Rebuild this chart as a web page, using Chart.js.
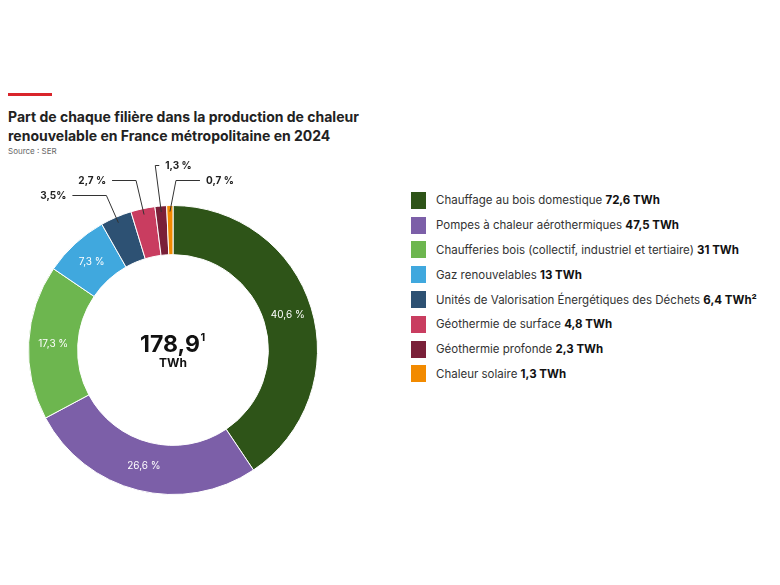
<!DOCTYPE html>
<html><head><meta charset="utf-8">
<script src="https://cdn.jsdelivr.net/npm/chart.js@4"></script>
<style>
body{margin:0;width:780px;height:585px;background:#fff;font-family:Inter,"Open Sans",sans-serif;position:relative;overflow:hidden}
#bar{position:absolute;left:8px;top:93px;width:44px;height:3px;background:#d9252b}
#title{position:absolute;left:8px;top:107px;font-weight:700;font-size:14px;line-height:19px;color:#222;white-space:nowrap}
#src{position:absolute;left:8px;top:146px;font-size:8px;color:#666}
#wrap{position:absolute;left:0;top:160px}
#legend{position:absolute;left:411px;top:188px;font-size:11.5px;color:#333;white-space:nowrap}
.row{display:flex;align-items:center;height:24.8px}
.sw{width:15px;height:17px;margin-right:10px;flex:none}
</style></head><body>
<div id="bar"></div>
<div id="title">Part de chaque filière dans la production de chaleur<br>renouvelable en France métropolitaine en 2024</div>
<div id="src">Source : SER</div>
<div id="wrap"><canvas id="c" width="350" height="380"></canvas></div>
<div id="legend"></div>
<script>
const labels = ["Chauffage au bois domestique","Pompes à chaleur aérothermiques","Chaufferies bois (collectif, industriel et tertiaire)","Gaz renouvelables","Unités de Valorisation Énergétiques des Déchets","Géothermie de surface","Géothermie profonde","Chaleur solaire"];
const twh = ["72,6 TWh","47,5 TWh","31 TWh","13 TWh","6,4 TWh²","4,8 TWh","2,3 TWh","1,3 TWh"];
const shares = [40.6,26.6,17.3,7.3,3.5,2.7,1.3,0.7];
const shareLabels = ["40,6 %","26,6 %","17,3 %","7,3 %","3,5%","2,7 %","1,3 %","0,7 %"];
const colors = ["#2e5418","#7c5fa8","#6db64f","#40a8de","#2d5173","#c93d60","#7a2039","#f28a00"];

const leg = document.getElementById("legend");
labels.forEach((l,i)=>{
  leg.innerHTML += `<div class="row"><div class="sw" style="background:${colors[i]}"></div><span>${l} <b style="color:#111">${twh[i]}</b></span></div>`;
});

// leader offsets for small slices: [dx of text from elbow, dy of elbow above edge]
const outside = {4:[-40,-10],5:[-30,-25],6:[10,-40],7:[30,-25]};

const labelPlugin = {
  id:"lbl",
  afterDatasetsDraw(chart){
    const ctx = chart.ctx;
    const arcs = chart.getDatasetMeta(0).data;
    arcs.forEach((a,i)=>{
      const mid = (a.startAngle+a.endAngle)/2;
      if(!(i in outside)){
        const r = (a.innerRadius+a.outerRadius)/2;
        ctx.fillStyle = "#fff";
        ctx.font = "10px Inter, sans-serif";
        ctx.textAlign="center";ctx.textBaseline="middle";
        ctx.fillText(shareLabels[i], a.x+Math.cos(mid)*r, a.y+Math.sin(mid)*r);
        return;
      }
      const [dx,dy] = outside[i];
      const x0 = a.x+Math.cos(mid)*(a.outerRadius-6), y0 = a.y+Math.sin(mid)*(a.outerRadius-6);
      const ey = a.y-a.outerRadius+dy;
      const ex = x0 + (i===6?-6:(i===7?6:(i===4?-12:-8)));
      const tx = ex+dx;
      ctx.strokeStyle="#333";ctx.lineWidth=1;
      ctx.beginPath();ctx.moveTo(x0,y0);ctx.lineTo(ex,ey);ctx.lineTo(tx+(dx<0?6:-6),ey);ctx.stroke();
      ctx.fillStyle="#222";ctx.font="bold 10px Inter, sans-serif";ctx.textBaseline="middle";
      ctx.textAlign = dx<0?"right":"left";
      ctx.fillText(shareLabels[i], tx, ey);
    });
    const c = arcs[0];
    ctx.fillStyle="#111";ctx.textAlign="center";ctx.textBaseline="alphabetic";
    ctx.font="bold 23px Inter, sans-serif";
    ctx.fillText("178,9", c.x-3, c.y+2);
    const w = ctx.measureText("178,9").width;
    ctx.font="bold 11px Inter, sans-serif";
    ctx.fillText("1", c.x-3+w/2+3, c.y-9);
    ctx.font="bold 12px Inter, sans-serif";
    ctx.fillText("TWh", c.x, c.y+17);
  }
};

new Chart(document.getElementById("c"),{
  type:"doughnut",
  data:{labels:labels,datasets:[{data:shares,backgroundColor:colors,borderColor:"#fff",borderWidth:1}]},
  options:{responsive:false,animation:false,cutout:"66%",
    layout:{padding:{left:28,right:32,top:45,bottom:45}},
    plugins:{legend:{display:false},tooltip:{enabled:false}}},
  plugins:[labelPlugin]
});
</script>
</body></html>
